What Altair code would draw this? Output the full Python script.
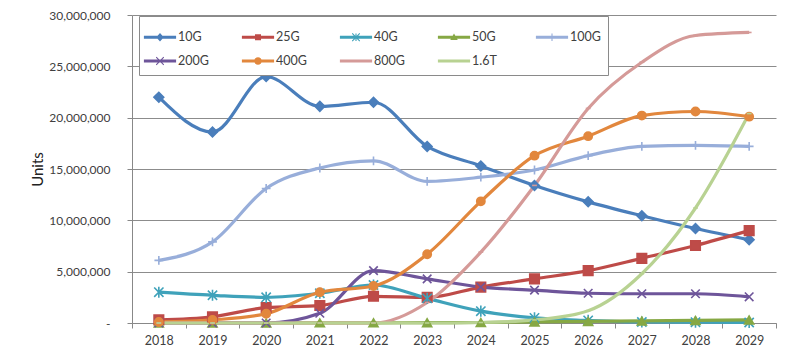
import math
import altair as alt
import pandas as pd

years = [2018, 2019, 2020, 2021, 2022, 2023, 2024, 2025, 2026, 2027, 2028, 2029]
series = ["10G", "25G", "40G", "50G", "100G", "200G", "400G", "800G", "1.6T"]

# values in millions of units
v10G = [22.0, 18.6, 24.0, 21.1, 21.5, 17.2, 15.3, 13.4, 11.8, 10.45, 9.2, 8.1]
v25G = [0.3, 0.6, 1.5, 1.7, 2.6, 2.5, 3.5, 4.3, 5.1, 6.3, 7.55, 9.0]
v40G = [3.0, 2.7, 2.5, 2.9, 3.7, 2.4, 1.15, 0.5, 0.25, 0.1, 0.08, 0.05]
v50G = [0.0, 0.0, 0.0, 0.01, 0.02, 0.03, 0.05, 0.1, 0.15, 0.2, 0.25, 0.3]
v100G = [6.1, 7.9, 13.1, 15.1, 15.8, 13.8, 14.2, 14.9, 16.3, 17.2, 17.3, 17.2]
v200G = [0.0, 0.0, 0.0, 0.95, 5.1, 4.3, 3.5, 3.2, 2.9, 2.85, 2.85, 2.55]
v400G = [0.1, 0.3, 0.9, 3.0, 3.6, 6.7, 11.85, 16.3, 18.2, 20.2, 20.6, 20.1]
v800G = [0.0, 0.0, 0.0, 0.0, 0.0, 2.0, 6.9, 13.4, 20.9, 25.4, 28.0, 28.3]
v16T = [0.0, 0.0, 0.0, 0.0, 0.0, 0.0, 0.05, 0.3, 1.2, 4.8, 11.2, 20.4]

values = [v10G, v25G, v40G, v50G, v100G, v200G, v400G, v800G, v16T]

colors = ["#4A7EBB", "#BE4B48", "#3FA2BA", "#86A844", "#98AEDA",
          "#6E559A", "#E2873D", "#D59A98", "#B8D292"]

rows = []
for name, vals in zip(series, values):
    for yr, v in zip(years, vals):
        rows.append({"series": name, "year": str(yr), "units": v * 1_000_000})
df = pd.DataFrame(rows)

# ---- marker shapes (styling) ----
def bar(x1, y1, x2, y2, w):
    dx, dy = x2 - x1, y2 - y1
    L = math.hypot(dx, dy)
    nx, ny = -dy / L * w / 2, dx / L * w / 2
    pts = [(x1 + nx, y1 + ny), (x2 + nx, y2 + ny), (x2 - nx, y2 - ny), (x1 - nx, y1 - ny)]
    area = sum(pts[i][0] * pts[(i + 1) % 4][1] - pts[(i + 1) % 4][0] * pts[i][1] for i in range(4))
    if area < 0:
        pts = pts[::-1]
    return "M" + "L".join(f"{x:.3f},{y:.3f}" for x, y in pts) + "Z"

line_seg = bar(-1.15, 0, 1.15, 0, 0.22)
r = 0.27
leg_markers = {
    "10G": f"M0,{-r-0.04}L{r},0L0,{r+0.04}L{-r},0Z",
    "25G": f"M{-r*0.8},{-r*0.8}L{r*0.8},{-r*0.8}L{r*0.8},{r*0.8}L{-r*0.8},{r*0.8}Z",
    "40G": bar(-r, -r, r, r, 0.08) + bar(-r, r, r, -r, 0.08) + bar(0, -r, 0, r, 0.08),
    "50G": f"M0,{-r}L{r},{r*0.7}L{-r},{r*0.7}Z",
    "100G": bar(0, -r, 0, r, 0.08),
    "200G": bar(-r, -r, r, r, 0.08) + bar(-r, r, r, -r, 0.08),
    "400G": f"M{-r},0A{r},{r} 0 1,1 {r},0A{r},{r} 0 1,1 {-r},0Z",
    "800G": "",
    "1.6T": "",
}
legend_shapes = [line_seg + leg_markers[s] for s in series]

chart_shapes = [
    "diamond",
    "square",
    "M-1,-1L1,1M-1,1L1,-1M0,-1.2L0,1.2",
    "triangle-up",
    "M-1,0L1,0M0,-1L0,1",
    "M-1,-1L1,1M-1,1L1,-1",
    "circle",
    "M-0.6,0L0.6,0",
    "M-0.6,0L0.6,0",
]
sizes = [95, 60, 120, 110, 100, 120, 160, 40, 40]

FONT = "Lato"
TXT = "#404040"

x_enc = alt.X("year:O", title=None,
              scale=alt.Scale(type="band", paddingInner=0, paddingOuter=0),
              axis=alt.Axis(labelAngle=0, tickBand="extent", labelFontSize=12.5,
                            labelColor=TXT, labelFont=FONT, domainColor="#888888",
                            tickColor="#888888", tickSize=5, labelPadding=6,
                            grid=False))
y_enc = alt.Y("units:Q", title="Units",
              scale=alt.Scale(domain=[0, 30_000_000], nice=False),
              axis=alt.Axis(values=[0, 5e6, 10e6, 15e6, 20e6, 25e6, 30e6],
                            labelExpr="datum.value == 0 ? '-  ' : format(datum.value, ',')",
                            labelFontSize=12, labelColor=TXT, labelFont=FONT,
                            titleFont=FONT, titleFontSize=15, titleFontWeight="normal",
                            titleColor="#222222", titlePadding=3,
                            domainColor="#888888", tickColor="#888888", tickSize=5,
                            labelPadding=17, gridColor="#8c8c8c", gridWidth=1))

color_scale = alt.Scale(domain=series, range=colors)

lines = alt.Chart(df).mark_line(strokeWidth=3.2, interpolate="monotone").encode(
    x=x_enc, y=y_enc,
    color=alt.Color("series:N", scale=color_scale, legend=None),
    detail="series:N",
)

points = alt.Chart(df).mark_point(filled=True, strokeWidth=1.6, opacity=1).encode(
    x=x_enc, y=y_enc,
    color=alt.Color("series:N", scale=color_scale, legend=None),
    stroke=alt.Stroke("series:N", scale=color_scale, legend=None),
    shape=alt.Shape("series:N", scale=alt.Scale(domain=series, range=chart_shapes), legend=None),
    size=alt.Size("series:N", scale=alt.Scale(domain=series, range=sizes), legend=None),
)

leg_kwargs = dict(
    title=None, orient="none", legendX=7, legendY=1, columns=5,
    direction="horizontal", symbolSize=784, symbolStrokeWidth=0,
    labelFont=FONT, labelFontSize=12.5, labelColor=TXT, labelOffset=4,
    gridAlign="all", columnPadding=32, rowPadding=3, padding=7,
    strokeColor="#8a8a8a", fillColor="white", cornerRadius=0,
)

legend_layer = alt.Chart(df).transform_filter("false").mark_point(
    filled=True, opacity=1, strokeWidth=0
).encode(
    color=alt.Color("series:N", scale=color_scale, legend=alt.Legend(**leg_kwargs)),
    shape=alt.Shape("series:N", scale=alt.Scale(domain=series, range=legend_shapes),
                    legend=alt.Legend(**leg_kwargs)),
)

chart = alt.layer(lines, points, legend_layer).resolve_scale(
    color="independent", shape="independent"
).properties(
    width=644, height=308,
    autosize=alt.AutoSizeParams(type="none"),
    padding={"left": 124, "top": 7, "right": 10, "bottom": 30},
    background="white",
).configure_view(strokeWidth=0)

chart.save("out.html", embed_options={"renderer": "svg", "actions": False})
